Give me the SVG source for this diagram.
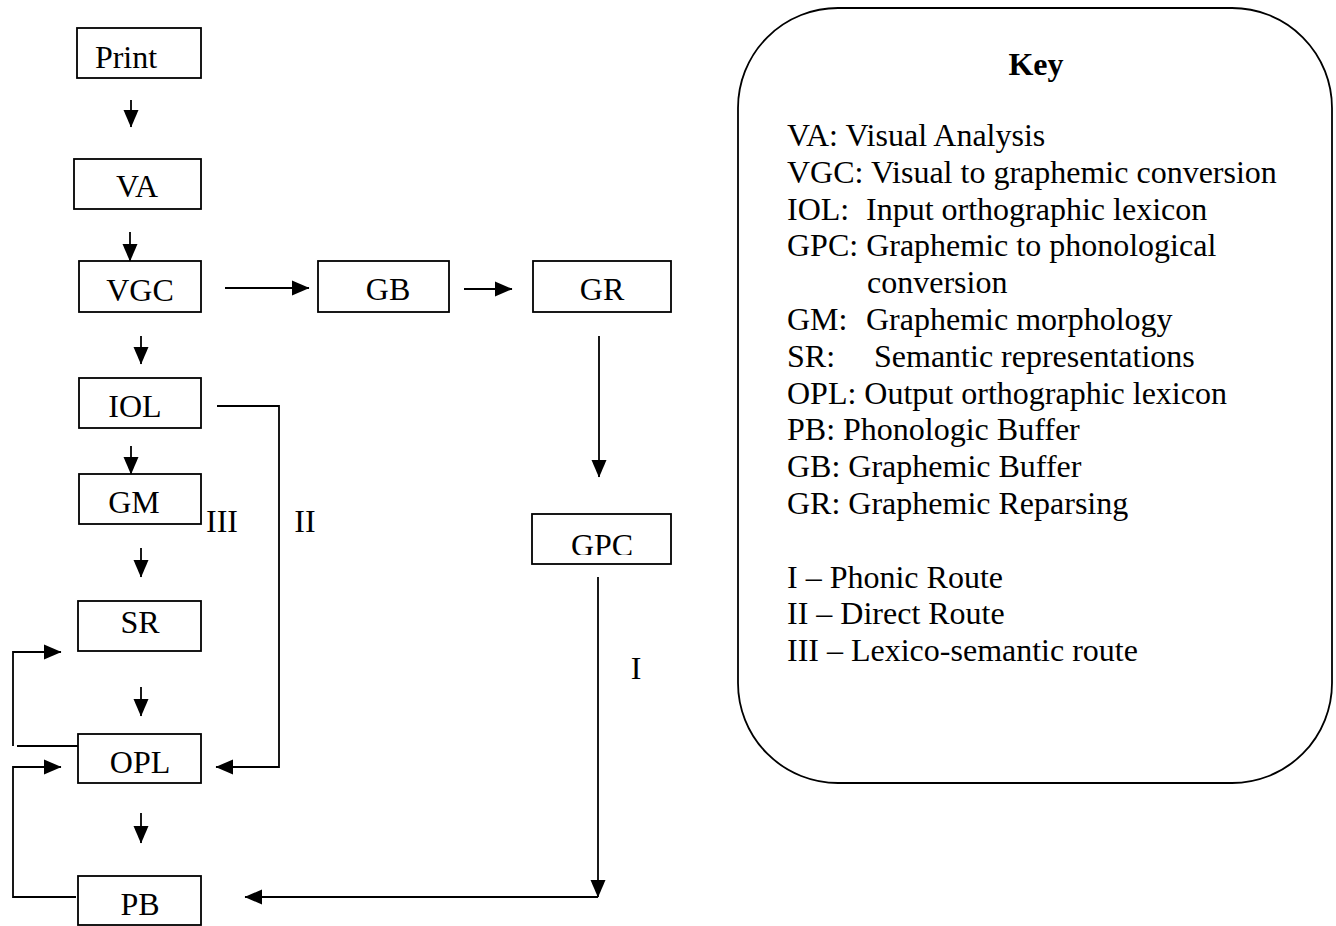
<svg xmlns="http://www.w3.org/2000/svg" width="1336" height="926" viewBox="0 0 1336 926">
<style>
text{font-family:"Liberation Serif","Times New Roman",serif;fill:#000}
.n{font-size:32px;text-anchor:middle}
.k{font-size:32px;white-space:pre}
.box{fill:#fff;stroke:#000;stroke-width:1.8}
.c{fill:none;stroke:#000;stroke-width:1.8}
</style>
<defs>
<marker id="ah" markerWidth="18" markerHeight="16" refX="17" refY="8" orient="auto" markerUnits="userSpaceOnUse">
<path d="M0,0.5 L17.5,8 L0,15.5 z" fill="#000"/>
</marker>
<clipPath id="gpcclip"><rect x="532" y="514" width="139" height="41"/></clipPath>
</defs>
<rect width="1336" height="926" fill="#fff"/>

<g id="connectors">
<path class="c" d="M131,100 V127" marker-end="url(#ah)"/>
<path class="c" d="M130,232 V261" marker-end="url(#ah)"/>
<path class="c" d="M141,336 V364" marker-end="url(#ah)"/>
<path class="c" d="M131,446 V474" marker-end="url(#ah)"/>
<path class="c" d="M141,548 V577" marker-end="url(#ah)"/>
<path class="c" d="M141,687 V716" marker-end="url(#ah)"/>
<path class="c" d="M141,813 V843" marker-end="url(#ah)"/>
<path class="c" d="M225,288 H309" marker-end="url(#ah)"/>
<path class="c" d="M464,289 H512" marker-end="url(#ah)"/>
<path class="c" d="M599,336 V477" marker-end="url(#ah)"/>
<path class="c" d="M598,577 V897" marker-end="url(#ah)"/>
<path class="c" d="M598,897 H245" marker-end="url(#ah)"/>
<path class="c" d="M217,406 H279 V767 H216" marker-end="url(#ah)"/>
<path class="c" d="M78,746 H17"/>
<path class="c" d="M13,746 V652 H61" marker-end="url(#ah)"/>
<path class="c" d="M76,897 H13 V767 H61" marker-end="url(#ah)"/>
</g>

<g id="node-print"><rect class="box" x="77" y="28" width="124" height="50"/><text class="n" x="126" y="68">Print</text></g>
<g id="node-va"><rect class="box" x="74" y="159" width="127" height="50"/><text class="n" x="137" y="197">VA</text></g>
<g id="node-vgc"><rect class="box" x="79" y="261" width="122" height="51"/><text class="n" x="140" y="301">VGC</text></g>
<g id="node-iol"><rect class="box" x="79" y="378" width="122" height="50"/><text class="n" x="135" y="417">IOL</text></g>
<g id="node-gm"><rect class="box" x="79" y="474" width="122" height="50"/><text class="n" x="134" y="513">GM</text></g>
<g id="node-sr"><rect class="box" x="78" y="601" width="123" height="50"/><text class="n" x="140" y="633">SR</text></g>
<g id="node-opl"><rect class="box" x="78" y="734" width="123" height="49"/><text class="n" x="140" y="773">OPL</text></g>
<g id="node-pb"><rect class="box" x="78" y="876" width="123" height="49"/><text class="n" x="140" y="915">PB</text></g>
<g id="node-gb"><rect class="box" x="318" y="261" width="131" height="51"/><text class="n" x="388" y="300">GB</text></g>
<g id="node-gr"><rect class="box" x="533" y="261" width="138" height="51"/><text class="n" x="602" y="300">GR</text></g>
<g id="node-gpc"><rect class="box" x="532" y="514" width="139" height="50"/><text class="n" x="602" y="556" clip-path="url(#gpcclip)">GPC</text></g>

<g id="route-labels">
<text class="n" x="222" y="532">III</text>
<text class="n" x="305" y="532">II</text>
<text class="n" x="636" y="679">I</text>
</g>

<g id="key">
<rect x="738" y="8" width="594" height="775" rx="100" ry="100" fill="#fff" stroke="#000" stroke-width="1.8"/>
<text x="1036" y="75" style="font-size:32px;font-weight:bold;text-anchor:middle">Key</text>
<text class="k" x="787" y="146">VA: Visual Analysis</text>
<text class="k" x="787" y="182.8">VGC: Visual to graphemic conversion</text>
<text class="k" x="787" y="219.6">IOL:<tspan x="866">Input orthographic lexicon</tspan></text>
<text class="k" x="787" y="256.4">GPC: Graphemic to phonological</text>
<text class="k" x="867" y="293.2">conversion</text>
<text class="k" x="787" y="330">GM:<tspan x="866">Graphemic morphology</tspan></text>
<text class="k" x="787" y="366.8">SR:<tspan x="874">Semantic representations</tspan></text>
<text class="k" x="787" y="403.6">OPL: Output orthographic lexicon</text>
<text class="k" x="787" y="440.4">PB: Phonologic Buffer</text>
<text class="k" x="787" y="477.2">GB: Graphemic Buffer</text>
<text class="k" x="787" y="514">GR: Graphemic Reparsing</text>
<text class="k" x="787" y="587.6">I – Phonic Route</text>
<text class="k" x="787" y="624.4">II – Direct Route</text>
<text class="k" x="787" y="661.2">III – Lexico-semantic route</text>
</g>
</svg>
